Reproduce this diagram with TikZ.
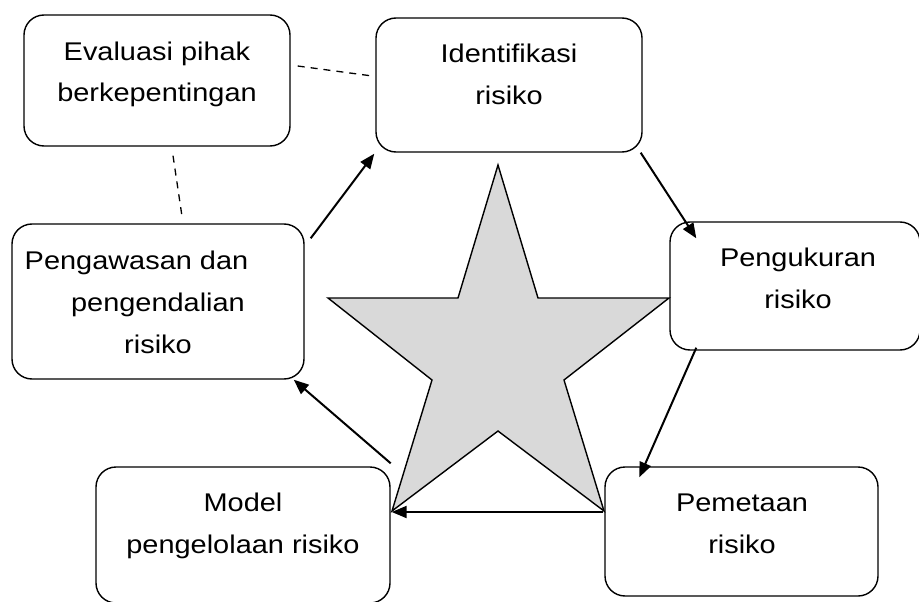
\documentclass[tikz,border=0pt]{standalone}
\usepackage{fontspec}
\setmainfont{Liberation Sans}[FakeStretch=1.13]
\usetikzlibrary{arrows.meta,calc}
\definecolor{stargray}{HTML}{D9D9D9}
\begin{document}
\begin{tikzpicture}[x=1pt,y=-1pt,
  box/.style={draw, line width=1.4pt, rounded corners=20pt, inner sep=0pt},
  txt/.style={anchor=base, align=center, inner sep=0pt, font=\fontsize{25.6}{41.8}\selectfont},
  arr/.style={line width=2pt, -{Triangle[length=15pt,width=12pt]}},
  dsh/.style={line width=1.3pt, dash pattern=on 7pt off 6pt}]
\useasboundingbox (0,0) rectangle (919,602);
% star
\draw[line width=1.4pt, fill=stargray, line join=miter]
  (498,165) -- (538,298) -- (669,298) -- (564,380) -- (604,511) -- (498,431)
  -- (392,511) -- (432,380) -- (328,298) -- (458,298) -- cycle;
% boxes
\node[box, minimum width=266pt, minimum height=131pt] (eval) at (157,80.5) {};
\node[box, minimum width=266pt, minimum height=134pt] (ident) at (509,85) {};
\node[box, minimum width=250pt, minimum height=128pt] (meas) at (795,286) {};
\node[box, minimum width=273pt, minimum height=129pt] (map) at (741.5,531.5) {};
\node[box, minimum width=294pt, minimum height=136pt] (model) at (243,535) {};
\node[box, minimum width=292pt, minimum height=155pt] (ctrl) at (158,301.5) {};
% texts (anchor = baseline of last line)
\node[txt] (evalt) at (157,102) {Evaluasi pihak\\berkepentingan};
\node[txt] (identt) at (509,104) {Identifikasi\\risiko};
\node[txt] (meast) at (798,308) {Pengukuran\\risiko};
\node[txt] (mapt) at (742,553) {Pemetaan\\risiko};
\node[txt] (modelt) at (243,553) {Model\\pengelolaan risiko};
\node[txt] (ctrlt) at (158,353) {Pengawasan dan\hspace*{43pt}\\pengendalian\\risiko};
% arrows
\draw[arr] ([shift={(6,15)}]ctrl.north east) -- ([shift={(-1,1)}]ident.south west);
\draw[arr] ([shift={(-2,0)}]ident.south east) -- ([shift={(27,17)}]meas.north west);
\draw[arr] ([shift={(27,-3)}]meas.south west) -- ([shift={(35,11)}]map.north west);
\draw[arr] ([shift={(-1,-19.5)}]map.west) -- ([shift={(1,-23)}]model.east);
\draw[arr] ([shift={(0,-3)}]model.north east) -- ([shift={(-11,0)}]ctrl.south east);
% dashed links
\draw[dsh] ([shift={(7,-14.5)}]eval.east) -- ([shift={(-3,-9)}]ident.west);
\draw[dsh] ([shift={(16,9)}]eval.south) -- ([shift={(24,-7)}]ctrl.north);
\end{tikzpicture}
\end{document}
